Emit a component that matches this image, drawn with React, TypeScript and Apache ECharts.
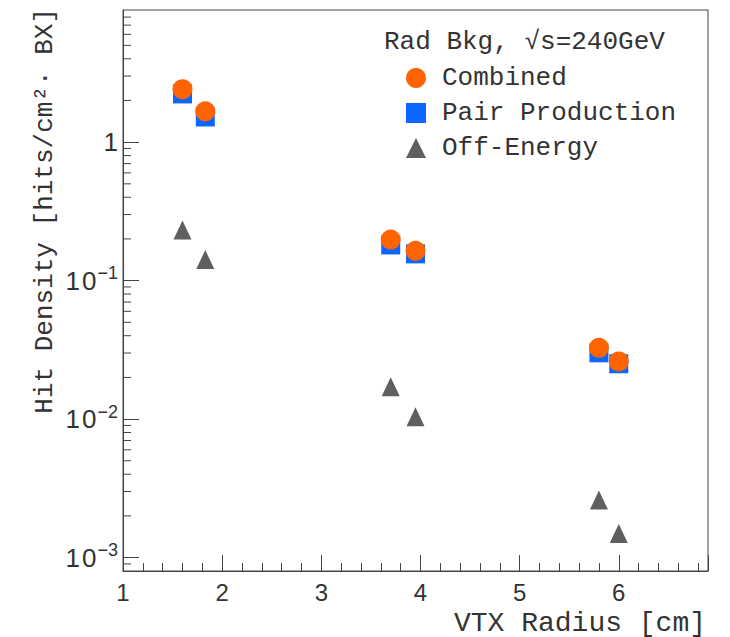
import React, { useEffect, useRef } from 'react';
import * as echarts from 'echarts';

// VTX layer radii [cm]
const radii = [1.6, 1.83, 3.7, 3.95, 5.8, 6.0];
// Hit density [hits/cm^2 BX]
const combined = [2.41, 1.67, 0.198, 0.164, 0.0327, 0.0261];
const pairProduction = [2.23, 1.52, 0.181, 0.156, 0.0301, 0.0251];
const offEnergy = [0.232, 0.142, 0.0171, 0.0104, 0.00261, 0.00149];

const seriesNames = ['Combined', 'Pair Production', 'Off-Energy'];
const headerText = 'Rad Bkg, \u221As=240GeV';
const xTitle = 'VTX Radius [cm]';
const yTitle = 'Hit Density [hits/cm\u00B2\u00B7 BX]';

const X_MIN = 1;
const X_MAX = 6.9;
const Y_MIN = 0.0008;
const Y_MAX = 9;
const decades = [-4, -3, -2, -1, 0];
const minorMultipliers = [2, 3, 4, 5, 6, 7, 8, 9];

const AXIS_COLOR = '#444';
const TEXT_COLOR = '#333';
const MONO = '"Liberation Mono", "DejaVu Sans Mono", monospace';
const SANS = '"Liberation Sans", Arial, sans-serif';

export default function App() {
  const ref = useRef<HTMLDivElement>(null);

  useEffect(() => {
    if (!ref.current) return;
    const chart = echarts.init(ref.current, undefined, { renderer: 'svg' });

    const minorY: number[][] = [];
    decades.forEach((d) => {
      minorMultipliers.forEach((m) => {
        const v = m * Math.pow(10, d);
        if (v > Y_MIN && v < Y_MAX) minorY.push([X_MIN, v]);
      });
    });

    const toPairs = (ys: number[]) => radii.map((x, i) => [x, ys[i]]);

    chart.setOption({
      animation: false,
      backgroundColor: '#fff',
      grid: {
        left: 123,
        right: 22,
        top: 10,
        bottom: 62,
        show: true,
        borderColor: AXIS_COLOR,
        borderWidth: 1,
        containLabel: false,
      },
      xAxis: {
        type: 'value',
        min: X_MIN,
        max: X_MAX,
        interval: 1,
        name: xTitle,
        nameLocation: 'end',
        nameGap: -2,
        nameTextStyle: {
          fontFamily: MONO,
          fontSize: 28,
          color: TEXT_COLOR,
          align: 'right',
          verticalAlign: 'top',
          padding: [38, 0, 0, 0],
        },
        axisLine: { show: true, lineStyle: { color: AXIS_COLOR, width: 1 } },
        axisTick: { show: true, inside: true, length: 16, lineStyle: { color: AXIS_COLOR } },
        minorTick: { show: true, splitNumber: 5, length: 8, lineStyle: { color: AXIS_COLOR } },
        splitLine: { show: false },
        axisLabel: {
          showMaxLabel: false,
          margin: 9,
          fontFamily: SANS,
          fontSize: 24,
          color: TEXT_COLOR,
          formatter: (v: number) => (Math.abs(v - Math.round(v)) < 1e-6 ? String(Math.round(v)) : ''),
        },
      },
      yAxis: {
        type: 'log',
        logBase: 10,
        min: Y_MIN,
        max: Y_MAX,
        name: yTitle,
        nameLocation: 'end',
        nameGap: 2,
        nameRotate: 90,
        nameTextStyle: {
          fontFamily: MONO,
          fontSize: 26,
          color: TEXT_COLOR,
          align: 'right',
          verticalAlign: 'bottom',
          padding: [0, 0, 65, 0],
        },
        axisLine: { show: true, lineStyle: { color: AXIS_COLOR, width: 1 } },
        axisTick: { show: true, inside: true, length: 16, lineStyle: { color: AXIS_COLOR } },
        splitLine: { show: false },
        axisLabel: {
          showMinLabel: false,
          showMaxLabel: false,
          margin: 5,
          fontFamily: SANS,
          fontSize: 26,
          color: TEXT_COLOR,
          formatter: (v: number) => {
            const l = Math.log10(v);
            const e = Math.round(l);
            if (Math.abs(l - e) > 1e-6) return '';
            if (e === 0) return '{b|1}';
            return `{b|1\u200A0}{s|\u2212${-e}}`;
          },
          rich: {
            b: { fontFamily: SANS, fontSize: 26, color: TEXT_COLOR },
            s: { fontFamily: SANS, fontSize: 18, color: TEXT_COLOR, padding: [0, 0, 15, 1] },
          },
        },
      },
      legend: {
        orient: 'vertical',
        left: 401,
        top: 60,
        itemWidth: 20,
        itemHeight: 20,
        itemGap: 9,
        textStyle: {
          fontFamily: MONO,
          fontSize: 26,
          color: TEXT_COLOR,
          padding: [0, 0, 0, 11],
        },
        data: [
          { name: seriesNames[0], icon: 'circle' },
          { name: seriesNames[1], icon: 'rect' },
          { name: seriesNames[2], icon: 'triangle' },
        ],
      },
      graphic: [
        {
          type: 'text',
          left: 384,
          top: 29,
          style: {
            text: headerText,
            fontFamily: MONO,
            fontSize: 26,
            fill: TEXT_COLOR,
          },
        },
      ],
      series: [
        {
          type: 'custom',
          silent: true,
          renderItem: (_params: any, api: any) => {
            const p = api.coord([api.value(0), api.value(1)]);
            return {
              type: 'line',
              shape: { x1: p[0], y1: p[1], x2: p[0] + 8, y2: p[1] },
              style: { stroke: AXIS_COLOR, lineWidth: 1 },
            };
          },
          data: minorY,
          z: 1,
        },
        {
          name: seriesNames[1],
          type: 'scatter',
          symbol: 'rect',
          symbolSize: 19,
          itemStyle: { color: '#0a66ff', opacity: 1 },
          data: toPairs(pairProduction),
          z: 2,
        },
        {
          name: seriesNames[0],
          type: 'scatter',
          symbol: 'circle',
          symbolSize: 20,
          itemStyle: { color: '#ff6400', opacity: 1 },
          data: toPairs(combined),
          z: 3,
        },
        {
          name: seriesNames[2],
          type: 'scatter',
          symbol: 'triangle',
          symbolSize: [18, 19],
          itemStyle: { color: '#5f5f5f', opacity: 1 },
          data: toPairs(offEnergy),
          z: 3,
        },
      ],
    });

    return () => chart.dispose();
  }, []);

  return (
    <div
      ref={ref}
      style={{ position: 'absolute', left: 0, top: 0, width: 730, height: 637 }}
    />
  );
}
